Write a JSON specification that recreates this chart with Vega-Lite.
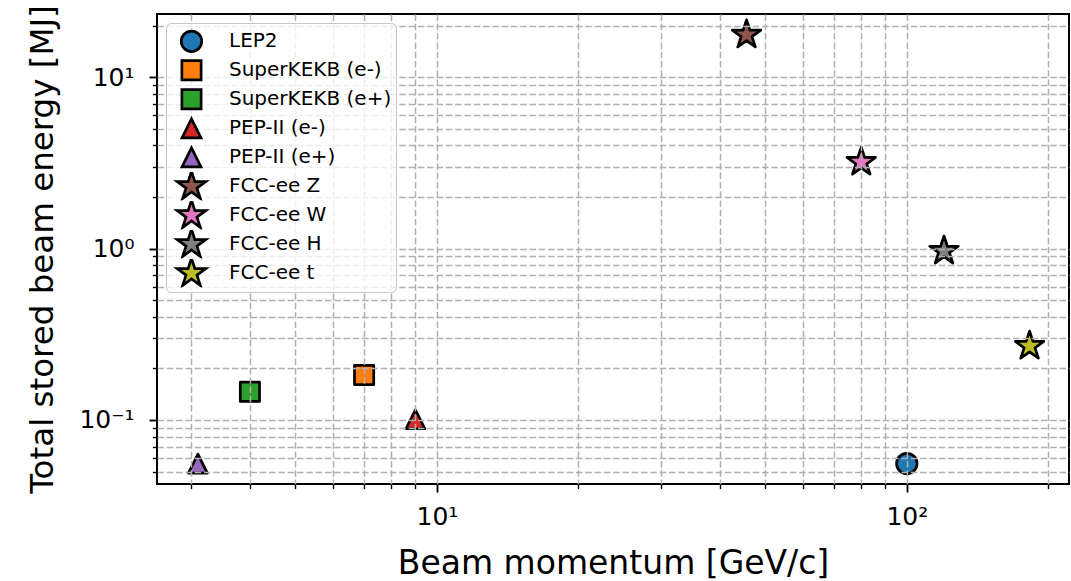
{
  "$schema": "https://vega.github.io/schema/vega-lite/v6.json",
  "width": 912,
  "height": 470,
  "autosize": {"type": "none"},
  "padding": {"left": 157, "top": 14, "right": 2, "bottom": 97},
  "config": {
    "font": "DejaVu Sans",
    "view": {"stroke": "black", "strokeWidth": 2},
    "legend": {
      "title": null,
      "orient": "none",
      "legendX": 9,
      "legendY": 9,
      "fillColor": "rgba(255,255,255,0.8)",
      "strokeColor": "#c8c8c8",
      "cornerRadius": 5,
      "padding": 4,
      "labelFont": "DejaVu Sans",
      "labelFontSize": 20,
      "labelColor": "black",
      "labelLimit": 400,
      "symbolStrokeWidth": 2.7,
      "symbolStrokeColor": "black",
      "symbolOffset": 5,
      "labelOffset": 21,
      "rowPadding": 0,
      "clipHeight": 28.6,
      "zindex": 2
    }
  },
  "data": {
    "values": [
      {"name": "LEP2", "momentum": 100, "energy": 0.0557},
      {"name": "SuperKEKB (e-)", "momentum": 7.0, "energy": 0.183},
      {"name": "SuperKEKB (e+)", "momentum": 4.0, "energy": 0.146},
      {"name": "PEP-II (e-)", "momentum": 9.0, "energy": 0.101},
      {"name": "PEP-II (e+)", "momentum": 3.1, "energy": 0.0556},
      {"name": "FCC-ee Z", "momentum": 45.6, "energy": 17.7},
      {"name": "FCC-ee W", "momentum": 80, "energy": 3.2},
      {"name": "FCC-ee H", "momentum": 120, "energy": 0.97},
      {"name": "FCC-ee t", "momentum": 182.5, "energy": 0.27}
    ]
  },
  "mark": {"type": "point", "filled": true, "opacity": 1, "stroke": "black", "strokeWidth": 2.7, "strokeJoin": "round"},
  "encoding": {
    "x": {
      "field": "momentum",
      "type": "quantitative",
      "scale": {"type": "log", "domain": [2.537, 221.4], "nice": false},
      "axis": {
        "values": [3, 4, 5, 6, 7, 8, 9, 10, 20, 30, 40, 50, 60, 70, 80, 90, 100, 200],
        "labelExpr": "datum.value == 10 ? '10¹' : datum.value == 100 ? '10²' : ''",
        "labelOverlap": false,
        "labelFlush": false,
        "labelFont": "DejaVu Sans",
        "labelFontSize": 25,
        "labelColor": "black",
        "labelPadding": 12,
        "tickColor": "black",
        "tickSize": {"condition": {"test": "datum.value == 10 || datum.value == 100", "value": 8}, "value": 4.6},
        "tickWidth": {"condition": {"test": "datum.value == 10 || datum.value == 100", "value": 1.9}, "value": 1.4},
        "grid": true,
        "gridColor": "#b0b0b0",
        "gridDash": [6.5, 2.8],
        "gridWidth": 1.5,
        "domain": false,
        "zindex": 1,
        "title": "Beam momentum [GeV/c]",
        "titleFont": "DejaVu Sans",
        "titleFontSize": 33,
        "titleFontWeight": "normal",
        "titleColor": "black",
        "titlePadding": 18
      }
    },
    "y": {
      "field": "energy",
      "type": "quantitative",
      "scale": {"type": "log", "domain": [0.04231, 23.41], "nice": false},
      "axis": {
        "values": [0.05, 0.06, 0.07, 0.08, 0.09, 0.1, 0.2, 0.3, 0.4, 0.5, 0.6, 0.7, 0.8, 0.9, 1, 2, 3, 4, 5, 6, 7, 8, 9, 10, 20],
        "labelExpr": "datum.value == 0.1 ? '10⁻¹' : datum.value == 1 ? '10⁰' : datum.value == 10 ? '10¹' : ''",
        "labelOverlap": false,
        "labelFlush": false,
        "labelFont": "DejaVu Sans",
        "labelFontSize": 25,
        "labelColor": "black",
        "labelPadding": 15,
        "tickColor": "black",
        "tickSize": {"condition": {"test": "datum.value == 0.1 || datum.value == 1 || datum.value == 10", "value": 8}, "value": 4.6},
        "tickWidth": {"condition": {"test": "datum.value == 0.1 || datum.value == 1 || datum.value == 10", "value": 1.9}, "value": 1.4},
        "grid": true,
        "gridColor": "#b0b0b0",
        "gridDash": [6.5, 2.8],
        "gridWidth": 1.5,
        "domain": false,
        "zindex": 1,
        "title": "Total stored beam energy [MJ]",
        "titleFont": "DejaVu Sans",
        "titleFontSize": 32.5,
        "titleFontWeight": "normal",
        "titleColor": "black",
        "titlePadding": 19
      }
    },
    "color": {
      "field": "name",
      "type": "nominal",
      "scale": {
        "domain": ["LEP2", "SuperKEKB (e-)", "SuperKEKB (e+)", "PEP-II (e-)", "PEP-II (e+)", "FCC-ee Z", "FCC-ee W", "FCC-ee H", "FCC-ee t"],
        "range": ["#1f77b4", "#ff7f0e", "#2ca02c", "#d62728", "#9467bd", "#8c564b", "#e377c2", "#7f7f7f", "#bcbd22"]
      },
      "legend": {"title": null}
    },
    "shape": {
      "field": "name",
      "type": "nominal",
      "scale": {
        "domain": ["LEP2", "SuperKEKB (e-)", "SuperKEKB (e+)", "PEP-II (e-)", "PEP-II (e+)", "FCC-ee Z", "FCC-ee W", "FCC-ee H", "FCC-ee t"],
        "range": [
          "circle", "square", "square",
          "M0,-1L1,1L-1,1Z", "M0,-1L1,1L-1,1Z",
          "M0,-1L0.2245,-0.309L0.9511,-0.309L0.3633,0.118L0.5878,0.809L0,0.382L-0.5878,0.809L-0.3633,0.118L-0.9511,-0.309L-0.2245,-0.309Z",
          "M0,-1L0.2245,-0.309L0.9511,-0.309L0.3633,0.118L0.5878,0.809L0,0.382L-0.5878,0.809L-0.3633,0.118L-0.9511,-0.309L-0.2245,-0.309Z",
          "M0,-1L0.2245,-0.309L0.9511,-0.309L0.3633,0.118L0.5878,0.809L0,0.382L-0.5878,0.809L-0.3633,0.118L-0.9511,-0.309L-0.2245,-0.309Z",
          "M0,-1L0.2245,-0.309L0.9511,-0.309L0.3633,0.118L0.5878,0.809L0,0.382L-0.5878,0.809L-0.3633,0.118L-0.9511,-0.309L-0.2245,-0.309Z"
        ]
      },
      "legend": {"title": null}
    },
    "size": {
      "field": "name",
      "type": "nominal",
      "scale": {
        "type": "ordinal",
        "domain": ["LEP2", "SuperKEKB (e-)", "SuperKEKB (e+)", "PEP-II (e-)", "PEP-II (e+)", "FCC-ee Z", "FCC-ee W", "FCC-ee H", "FCC-ee t"],
        "range": [420, 370, 370, 360, 360, 900, 900, 900, 900]
      },
      "legend": {"title": null}
    }
  }
}
